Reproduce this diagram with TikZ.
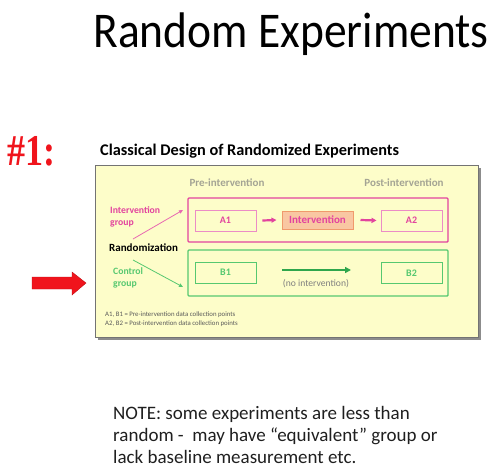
\documentclass[tikz,border=0pt]{standalone}
\usepackage{fontspec}
\setmainfont{Carlito}
\newfontfamily\hashfont{Liberation Serif}
\usetikzlibrary{arrows.meta}
\usetikzlibrary{positioning}
\definecolor{panelyellow}{HTML}{FDFDC9}
\definecolor{magentaline}{HTML}{E2449E}
\definecolor{pinkline}{HTML}{EC8CC6}
\definecolor{greenline}{HTML}{56C870}
\definecolor{greenarrow}{HTML}{2FA64C}
\definecolor{hashred}{HTML}{F0141C}
\definecolor{intfill}{HTML}{F9C7A2}
\definecolor{intline}{HTML}{F09A6C}
\definecolor{phasegray}{HTML}{A4A494}

\begin{document}
\begin{tikzpicture}[x=1pt,y=-1pt,
  every node/.style={inner sep=0pt},
  groupbox/.style={line width=1.4pt,rounded corners=1pt},
  pointbox/.style={draw,line width=0.9pt,minimum width=61pt,minimum height=21pt,
    font=\bfseries\fontsize{10}{11}\selectfont},
  phase/.style={text=phasegray,font=\bfseries\fontsize{11}{12}\selectfont},
  grouplabel/.style={anchor=west,align=left,font=\bfseries\fontsize{9.7}{12}\selectfont},
  steparrow/.style={-{Triangle[length=5pt,width=5pt]},line width=2.2pt,magentaline},
  splitarrow/.style={-{Triangle[length=4pt,width=3.5pt]},line width=0.8pt}]
\useasboundingbox (0,0) rectangle (498,469);

% title
\node[anchor=base,xscale=0.91] (title) at (291,47) {\fontsize{50}{60}\selectfont Random Experiments};
\node[anchor=base west,text=hashred,xscale=0.82] (num) at (7,165) {\hashfont\bfseries\fontsize{44}{48}\selectfont\#1:};

% red pointer
\fill[hashred,draw=hashred!80!black,line width=0.4pt] (32,277) -- (72,277) -- (72,272) -- (86,283)
  -- (72,295) -- (72,289) -- (32,289) -- cycle;

% panel
\fill[black!45] (98,168) rectangle (481,340);
\draw[fill=panelyellow,draw=black!55,line width=1pt] (95,165) rectangle (478,337);
\node[anchor=base west] (heading) at (100,155) {\bfseries\fontsize{16.3}{18}\selectfont Classical Design of Randomized Experiments};
\node[phase] (pre) at (227,183) {Pre-intervention};
\node[phase] (post) at (404,183) {Post-intervention};

% groups
\draw[groupbox,draw=magentaline] (188,198) rectangle (448,242);
\draw[groupbox,draw=greenline] (188,250) rectangle (448,296);
\coordinate (igroup) at (183,210);
\coordinate (cgroup) at (183,287);

\node[pointbox,draw=pinkline,text=magentaline] (A1) at (225.5,220.5) {A1};
\node[pointbox,draw=intline,fill=intfill,text=magentaline,minimum width=71pt,minimum height=18pt,
  line width=1pt,font=\bfseries\fontsize{11}{12}\selectfont] (int) at (317.5,220) {Intervention};
\node[pointbox,draw=pinkline,text=magentaline] (A2) at (411.5,220.5) {A2};
\node[pointbox,draw=greenline,text=greenline] (B1) at (225.5,272.5) {B1};
\node[pointbox,draw=greenline,text=greenline] (B2) at (411.5,273) {B2};

\draw[steparrow] ([xshift=6pt]A1.east) -- ([xshift=-5pt]int.west);
\draw[steparrow] ([xshift=7pt]int.east) -- ([xshift=-4pt]A2.west);

\coordinate (noint start) at (282,270);
\coordinate (noint end) at (351,270);
\draw[-{Triangle[length=6pt,width=6pt]},line width=2.6pt,greenarrow] (noint start) -- (noint end);
\node[text=black!50,font=\fontsize{9.6}{10}\selectfont] (noint) at (316,284) {(no intervention)};

% randomization
\node[grouplabel,text=magentaline] (ilabel) at (110,217) {Intervention\\group};
\node[grouplabel,font=\bfseries\fontsize{11}{12}\selectfont] (rand) at (109,248) {Randomization};
\node[grouplabel,text=greenline] (clabel) at (113,278) {Control\\group};
\coordinate (rand top) at (133,239);
\coordinate (rand bottom) at (133,260);
\draw[splitarrow,magentaline!80] (rand top) -- (igroup);
\draw[splitarrow,greenline] (rand bottom) -- (cgroup);

% footnotes
\node[anchor=west,align=left,text=black!65,font=\fontsize{6.8}{9}\selectfont] (legend) at (105,319.5)
  {A1, B1 = Pre-intervention data collection points\\A2, B2 = Post-intervention data collection points};

% note
\node[anchor=north west,align=left,text=black!88,font=\fontsize{19}{22}\selectfont] (note) at (113,406)
  {NOTE: some experiments are less than\\random -\ \ may have “equivalent” group or\\lack baseline measurement etc.};
\end{tikzpicture}
\end{document}
